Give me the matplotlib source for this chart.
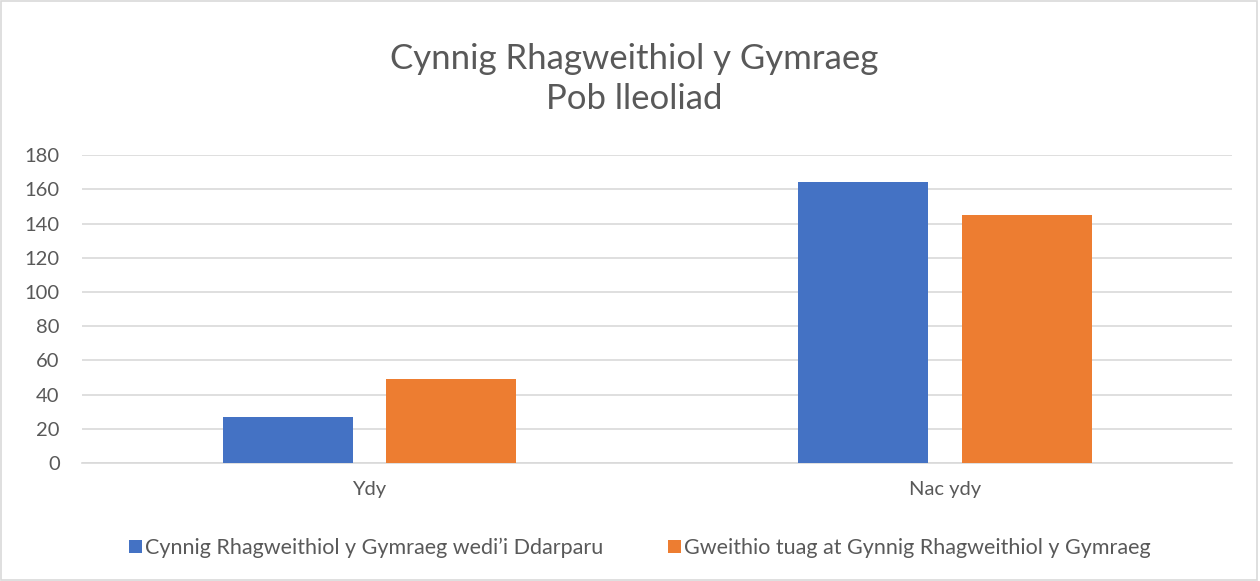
import matplotlib.pyplot as plt
import numpy as np

plt.rcParams['font.family'] = ['Lato', 'DejaVu Sans']

categories = ['Ydy', 'Nac ydy']
darparu = [27, 164]
gweithio = [49, 145]
series_names = ['Cynnig Rhagweithiol y Gymraeg wedi\u2019i Ddarparu',
                'Gweithio tuag at Gynnig Rhagweithiol y Gymraeg']
yticks = [0, 20, 40, 60, 80, 100, 120, 140, 160, 180]

blue = '#4472C4'
orange = '#ED7D31'
text_col = '#595959'
grid_col = '#D9D9D9'

fig = plt.figure(figsize=(12.6, 5.81), dpi=100)
ax = fig.add_axes([0.065, 0.203, 0.913, 0.530])

x = np.arange(len(categories))
w = 0.226
off = 0.1425
ax.bar(x - off, darparu, w, color=blue, label=series_names[0], zorder=3)
ax.bar(x + off, gweithio, w, color=orange, label=series_names[1], zorder=3)

ax.set_xlim(-0.5, 1.5)
ax.set_ylim(0, 180)
ax.set_yticks(yticks)
ax.set_xticks(x)
ax.set_xticklabels(categories)
ax.tick_params(axis='both', length=0, labelsize=14.5, colors=text_col)
ax.tick_params(axis='x', pad=13)
ax.tick_params(axis='y', pad=16)
ax.grid(axis='y', color=grid_col, linewidth=1.2, zorder=0)
for s in ['top', 'right', 'left']:
    ax.spines[s].set_visible(False)
ax.spines['bottom'].set_color(grid_col)
ax.spines['bottom'].set_linewidth(1.2)

fig.text(0.503, 0.864, 'Cynnig Rhagweithiol y Gymraeg\nPob lleoliad', ha='center', va='center',
         fontsize=25, color=text_col, linespacing=1.3)

fig.legend(loc='center', bbox_to_anchor=(0.508, 0.057), ncol=2, frameon=False,
           fontsize=15.5, handlelength=0.6, handleheight=0.6, handletextpad=0.15,
           columnspacing=3.0, labelcolor=text_col)

fig.patches.append(plt.Rectangle((0.001, 0.002), 0.997, 0.996, transform=fig.transFigure,
                                 fill=False, edgecolor=grid_col, linewidth=1.2))

fig.savefig('out.png', dpi=100)
